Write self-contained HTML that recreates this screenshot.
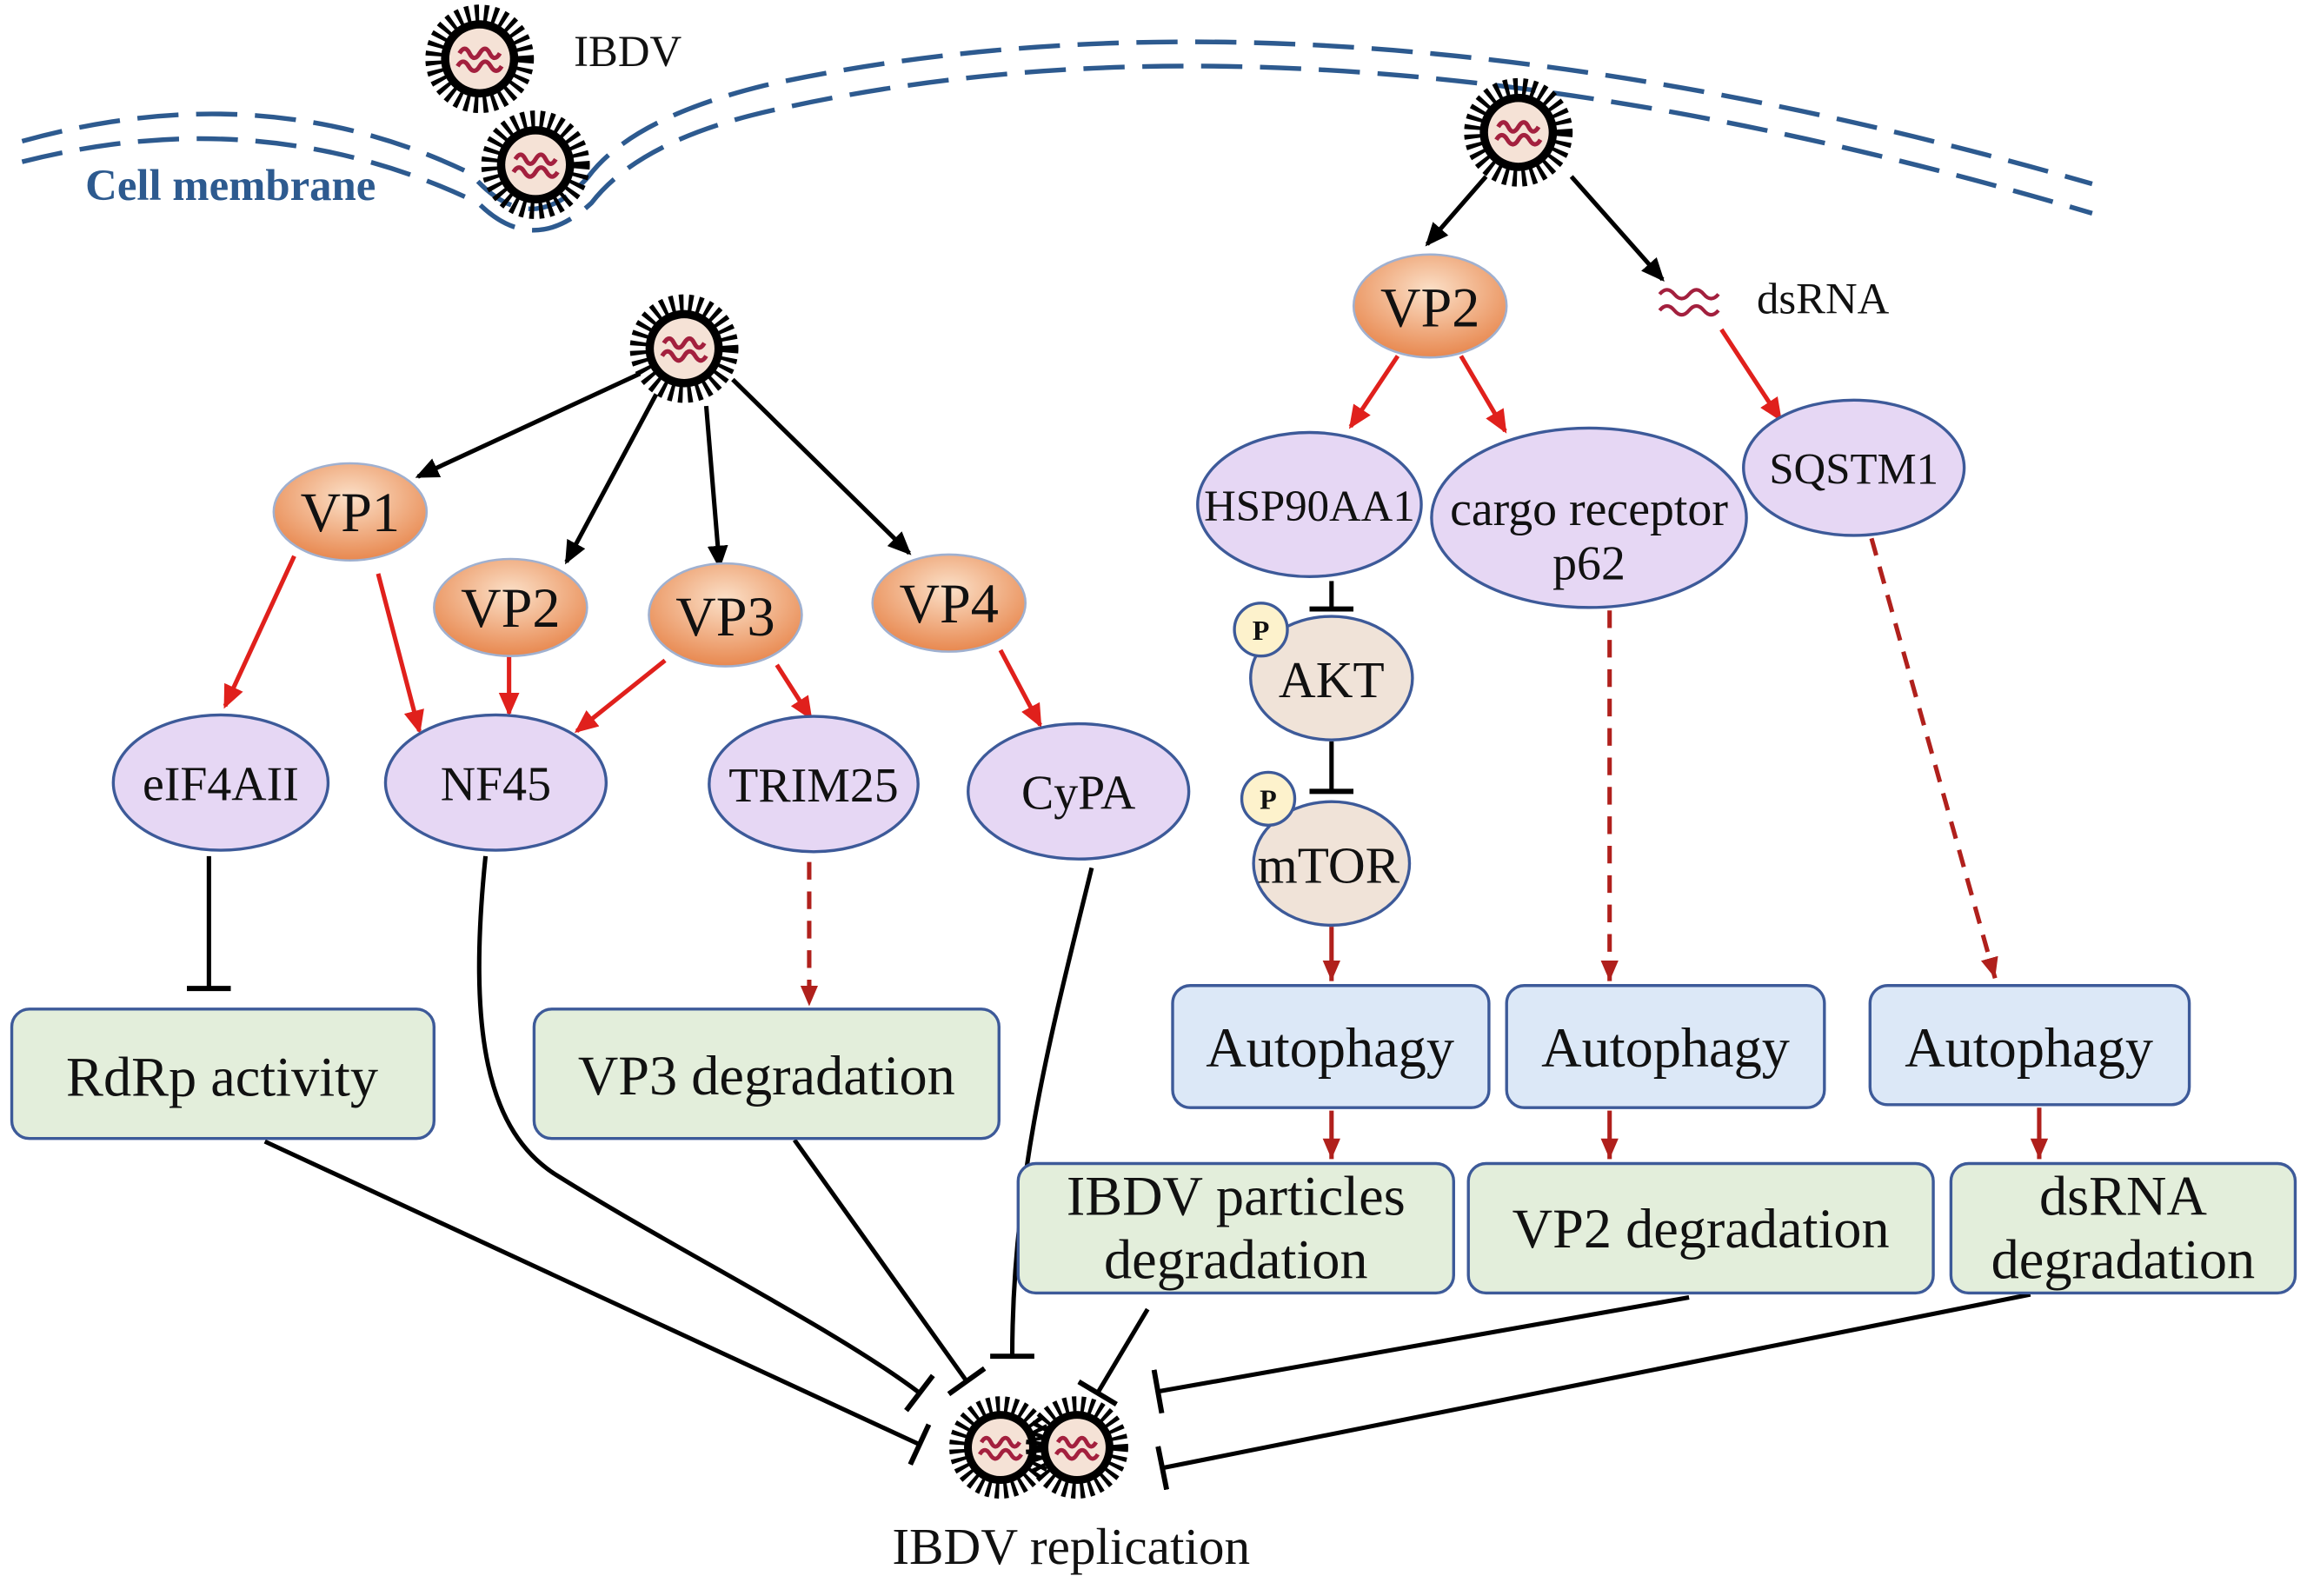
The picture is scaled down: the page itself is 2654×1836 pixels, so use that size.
<!DOCTYPE html>
<html><head><meta charset="utf-8"><style>
html,body{margin:0;padding:0;background:#fff;}
svg{display:block;}
text{font-family:"Liberation Serif",serif;fill:#111;}
</style></head><body>
<svg width="2654" height="1836" viewBox="0 0 1568 1085" preserveAspectRatio="none" xmlns="http://www.w3.org/2000/svg">
<defs>
<radialGradient id="og" cx="50%" cy="35%" r="65%">
<stop offset="0" stop-color="#fbe0c8"/><stop offset="1" stop-color="#e8884f"/>
</radialGradient>
<marker id="ar" markerUnits="userSpaceOnUse" markerWidth="20" markerHeight="20" refX="14" refY="7" orient="auto"><path d="M0,0 L16,7 L0,14 z" fill="#e0201c"/></marker>
<marker id="ak" markerUnits="userSpaceOnUse" markerWidth="20" markerHeight="20" refX="14" refY="7" orient="auto"><path d="M0,0 L16,7 L0,14 z" fill="#000"/></marker>
<marker id="ard" markerUnits="userSpaceOnUse" markerWidth="20" markerHeight="20" refX="14" refY="7" orient="auto"><path d="M0,1 L14,7 L0,13 z" fill="#b0201c"/></marker>
<marker id="bar" markerUnits="userSpaceOnUse" markerWidth="8" markerHeight="30" refX="3" refY="15" orient="auto"><path d="M3,0 L3,30" stroke="#000" stroke-width="3.5"/></marker>
<g id="vir">
<circle r="24" fill="none" stroke="#000" stroke-width="11" stroke-dasharray="2.2 2.6"/>
<circle r="21" fill="#000"/>
<circle r="16.5" fill="#f5e2d6"/>
<path d="M-11,-3 q3,-5 5.5,0 t5.5,0 t5.5,0 t5.5,0" fill="none" stroke="#a3203e" stroke-width="2.4"/>
<path d="M-12,4 q3,-5 6,0 t6,0 t6,0 t6,0" fill="none" stroke="#a3203e" stroke-width="2.4"/>
</g>
</defs>

<!-- membrane -->
<g fill="none" stroke="#2d5a8f" stroke-width="3.2" stroke-dasharray="28 12">
<path d="M15,96 Q180,50 320,118 Q360,165 400,120 Q430,80 520,58 Q900,-25 1422,125"/>
<path d="M15,110 Q180,68 325,138 Q362,175 402,138 Q435,95 525,75 Q900,-10 1422,145"/>
</g>
<text x="58" y="136" font-size="30" font-weight="bold" style="fill:#2d5a8f">Cell membrane</text>
<use href="#vir" transform="translate(326,40) scale(1.25)"/>
<text x="390" y="45" font-size="30">IBDV</text>
<use href="#vir" transform="translate(364,112) scale(1.25)"/>
<use href="#vir" transform="translate(1032,90) scale(1.25)"/>
<use href="#vir" transform="translate(465,237) scale(1.25)"/>

<!-- black arrows -->
<g stroke="#000" stroke-width="3" fill="none" marker-end="url(#ak)">
<line x1="435" y1="254" x2="284" y2="324"/>
<line x1="446" y1="268" x2="385" y2="382"/>
<line x1="480" y1="276" x2="489" y2="385"/>
<line x1="498" y1="258" x2="618" y2="376"/>
<line x1="1010" y1="120" x2="970" y2="166"/>
<line x1="1068" y1="120" x2="1130" y2="190"/>
</g>

<!-- red arrows -->
<g stroke="#e0201c" stroke-width="3" fill="none" marker-end="url(#ar)">
<line x1="200" y1="378" x2="153" y2="480"/>
<line x1="257" y1="390" x2="285" y2="497"/>
<line x1="346" y1="446" x2="346" y2="485"/>
<line x1="452" y1="449" x2="392" y2="497"/>
<line x1="528" y1="452" x2="551" y2="488"/>
<line x1="680" y1="442" x2="707" y2="493"/>
<line x1="950" y1="242" x2="918" y2="290"/>
<line x1="993" y1="242" x2="1023" y2="293"/>
<line x1="1170" y1="224" x2="1210" y2="285"/>
</g>
<g stroke="#b0201c" stroke-width="3" fill="none" marker-end="url(#ard)">
<line x1="905" y1="630" x2="905" y2="667"/>
<line x1="905" y1="755" x2="905" y2="788"/>
<line x1="1094" y1="755" x2="1094" y2="788"/>
<line x1="1386" y1="753" x2="1386" y2="788"/>
</g>
<g stroke="#b0201c" stroke-width="3" fill="none" stroke-dasharray="12 8" marker-end="url(#ard)">
<line x1="550" y1="586" x2="550" y2="684"/>
<line x1="1094" y1="415" x2="1094" y2="667"/>
<line x1="1272" y1="366" x2="1356" y2="665"/>
</g>

<!-- inhibition -->
<g stroke="#000" stroke-width="3" fill="none" marker-end="url(#bar)">
<line x1="142" y1="582" x2="142" y2="672"/>
<line x1="905" y1="395" x2="905" y2="414"/>
<line x1="905" y1="504" x2="905" y2="538"/>
<line x1="180" y1="776" x2="625" y2="982"/>
<path d="M330,582 C318,700 330,770 380,800 C460,850 570,905 625,947"/>
<line x1="540" y1="775" x2="657" y2="939"/>
<path d="M742,590 C715,700 688,800 688,922"/>
<line x1="780" y1="890" x2="746" y2="947"/>
<line x1="1148" y1="882" x2="787" y2="946"/>
<line x1="1380" y1="880" x2="790" y2="998"/>
</g>

<use href="#vir" transform="translate(680,984) scale(1.18)"/>
<use href="#vir" transform="translate(732,984) scale(1.18)"/>
<text x="728" y="1063" font-size="35" text-anchor="middle">IBDV replication</text>

<!-- dsRNA -->
<path d="M1128,200 q5,-6 10,0 t10,0 t10,0 t10,0" fill="none" stroke="#a3203e" stroke-width="2.5"/>
<path d="M1128,211 q5,-6 10,0 t10,0 t10,0 t10,0" fill="none" stroke="#a3203e" stroke-width="2.5"/>
<text x="1194" y="213" font-size="30">dsRNA</text>

<!-- orange nodes -->
<g fill="url(#og)" stroke="#9fb0d0" stroke-width="1.5">
<ellipse cx="238" cy="348" rx="52" ry="33"/>
<ellipse cx="347" cy="413" rx="52" ry="33"/>
<ellipse cx="493" cy="418" rx="52" ry="35"/>
<ellipse cx="645" cy="410" rx="52" ry="33"/>
<ellipse cx="972" cy="208" rx="52" ry="35"/>
</g>
<g font-size="38" text-anchor="middle">
<text x="238" y="361">VP1</text>
<text x="347" y="426">VP2</text>
<text x="493" y="432">VP3</text>
<text x="645" y="423">VP4</text>
<text x="972" y="222">VP2</text>
</g>

<!-- purple nodes -->
<g fill="#e6d7f4" stroke="#3d5a99" stroke-width="2">
<ellipse cx="150" cy="532" rx="73" ry="46"/>
<ellipse cx="337" cy="532" rx="75" ry="46"/>
<ellipse cx="553" cy="533" rx="71" ry="46"/>
<ellipse cx="733" cy="538" rx="75" ry="46"/>
<ellipse cx="890" cy="343" rx="76" ry="49"/>
<ellipse cx="1080" cy="352" rx="107" ry="61"/>
<ellipse cx="1260" cy="318" rx="75" ry="46"/>
</g>
<g font-size="33" text-anchor="middle">
<text x="150" y="544">eIF4AII</text>
<text x="337" y="544">NF45</text>
<text x="553" y="545">TRIM25</text>
<text x="733" y="550">CyPA</text>
<text x="890" y="354" font-size="30">HSP90AA1</text>
<text x="1080" y="357">cargo receptor</text>
<text x="1080" y="394">p62</text>
<text x="1260" y="329" font-size="30">SQSTM1</text>
</g>

<!-- AKT / mTOR -->
<g fill="#f0e3d8" stroke="#3d5a99" stroke-width="2">
<ellipse cx="905" cy="461" rx="55" ry="42"/>
<ellipse cx="905" cy="587" rx="53" ry="42"/>
</g>
<g fill="#fdf2cc" stroke="#3d5a99" stroke-width="2">
<circle cx="857" cy="428" r="18"/>
<circle cx="862" cy="543" r="18"/>
</g>
<g text-anchor="middle">
<text x="857" y="435" font-size="19" font-weight="bold">P</text>
<text x="862" y="550" font-size="19" font-weight="bold">P</text>
<text x="905" y="474" font-size="35">AKT</text>
<text x="903" y="600" font-size="35">mTOR</text>
</g>

<!-- boxes -->
<g fill="#e3eedb" stroke="#3d5a99" stroke-width="2">
<rect x="8" y="686" width="287" height="88" rx="12"/>
<rect x="363" y="686" width="316" height="88" rx="12"/>
<rect x="692" y="791" width="296" height="88" rx="12"/>
<rect x="998" y="791" width="316" height="88" rx="12"/>
<rect x="1326" y="791" width="234" height="88" rx="12"/>
</g>
<g fill="#dce8f7" stroke="#3d5a99" stroke-width="2">
<rect x="797" y="670" width="215" height="83" rx="12"/>
<rect x="1024" y="670" width="216" height="83" rx="12"/>
<rect x="1271" y="670" width="217" height="81" rx="12"/>
</g>
<g font-size="38" text-anchor="middle">
<text x="151" y="745">RdRp activity</text>
<text x="521" y="744">VP3 degradation</text>
<text x="840" y="826">IBDV particles</text>
<text x="840" y="869">degradation</text>
<text x="1156" y="848">VP2 degradation</text>
<text x="1443" y="826">dsRNA</text>
<text x="1443" y="869">degradation</text>
<text x="904" y="725">Autophagy</text>
<text x="1132" y="725">Autophagy</text>
<text x="1379" y="725">Autophagy</text>
</g>
</svg>
</body></html>
